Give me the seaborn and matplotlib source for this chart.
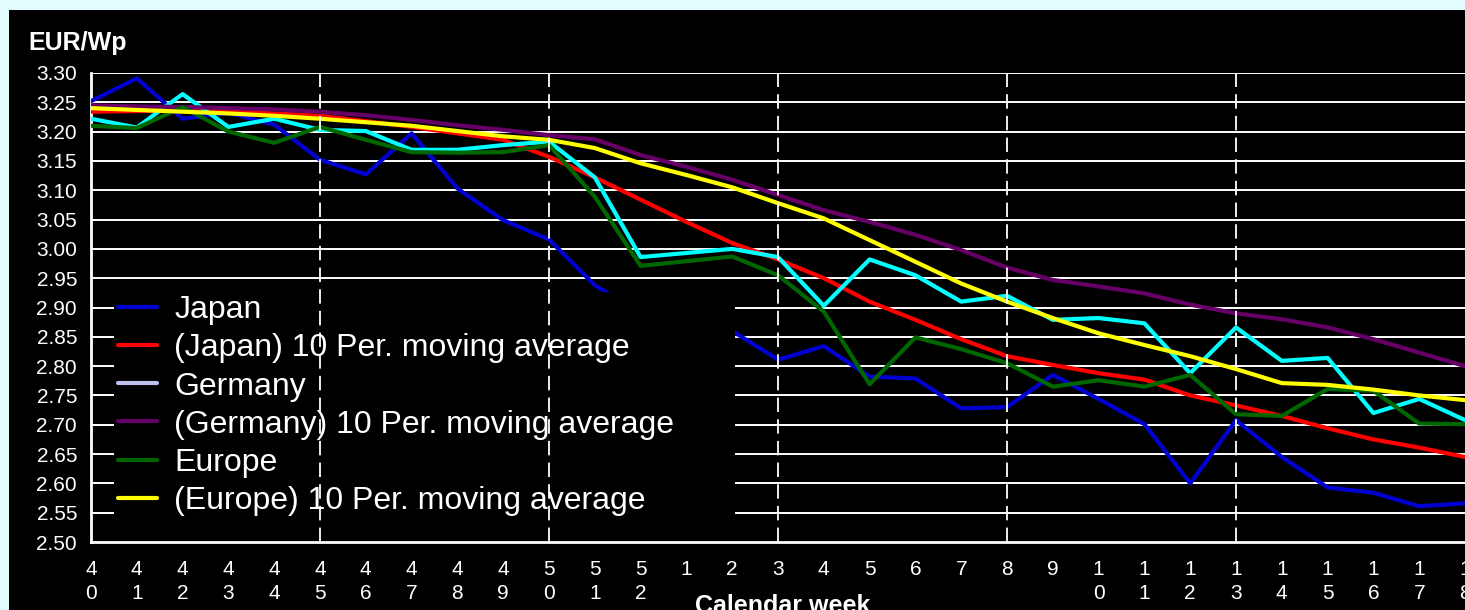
import numpy as np
import pandas as pd
import matplotlib
matplotlib.use('Agg')
import matplotlib.pyplot as plt
from matplotlib.lines import Line2D
from matplotlib.patches import Rectangle
import seaborn as sns

# calendar weeks (40..52 then 1..18)
weeks = [40, 41, 42, 43, 44, 45, 46, 47, 48, 49, 50, 51, 52,
         1, 2, 3, 4, 5, 6, 7, 8, 9, 10, 11, 12, 13, 14, 15, 16, 17, 18]

japan = [3.252, 3.291, 3.222, 3.232, 3.212, 3.152, 3.127, 3.197, 3.103, 3.049, 3.016,
         2.938, 2.890, 2.870, 2.860, 2.811, 2.834, 2.782, 2.779, 2.728, 2.730,
         2.785, 2.744, 2.701, 2.600, 2.708, 2.645, 2.593, 2.584, 2.561, 2.566]
japan_ma = [3.234, 3.235, 3.236, 3.234, 3.231, 3.227, 3.218, 3.208, 3.197, 3.186, 3.157,
            3.122, 3.084, 3.046, 3.010, 2.982, 2.950, 2.910, 2.879, 2.846, 2.817,
            2.802, 2.788, 2.777, 2.750, 2.733, 2.715, 2.694, 2.675, 2.661, 2.645]
germany = [3.222, 3.207, 3.264, 3.208, 3.222, 3.203, 3.201, 3.169, 3.169, 3.177, 3.183,
           3.122, 2.986, 2.993, 3.000, 2.986, 2.903, 2.982, 2.955, 2.910, 2.920,
           2.879, 2.882, 2.873, 2.788, 2.866, 2.809, 2.814, 2.720, 2.744, 2.708]
germany_ma = [3.245, 3.243, 3.242, 3.240, 3.238, 3.234, 3.228, 3.220, 3.211, 3.203, 3.194,
              3.187, 3.160, 3.140, 3.118, 3.092, 3.066, 3.046, 3.024, 2.998, 2.968,
              2.947, 2.936, 2.924, 2.905, 2.890, 2.880, 2.866, 2.846, 2.823, 2.800]
europe = [3.210, 3.206, 3.242, 3.200, 3.181, 3.208, 3.186, 3.165, 3.164, 3.165, 3.177,
          3.089, 2.971, 2.979, 2.987, 2.955, 2.893, 2.769, 2.849, 2.829, 2.805,
          2.765, 2.776, 2.765, 2.785, 2.718, 2.715, 2.761, 2.758, 2.702, 2.701]
europe_ma = [3.240, 3.237, 3.234, 3.231, 3.227, 3.222, 3.216, 3.210, 3.201, 3.192, 3.186,
             3.172, 3.146, 3.126, 3.105, 3.078, 3.052, 3.015, 2.978, 2.941, 2.910,
             2.882, 2.856, 2.836, 2.817, 2.795, 2.771, 2.768, 2.760, 2.750, 2.742]

labels = ['Japan', '(Japan) 10 Per. moving average',
          'Germany', '(Germany) 10 Per. moving average',
          'Europe', '(Europe) 10 Per. moving average']
line_colors = ['#0000d0', '#ff0000', '#00ffff', '#660066', '#006600', '#ffff00']
legend_colors = ['#0000d0', '#ff0000', '#c0c0f0', '#660066', '#006600', '#ffff00']
marker_weeks = [45, 50, 3, 8, 13]

sns.set_style('dark')
plt.rcParams['font.family'] = ['Liberation Sans', 'DejaVu Sans']

pos = np.arange(len(weeks))
df = pd.concat([pd.DataFrame({'pos': pos, 'price': v, 'series': n})
                for n, v in zip(labels, [japan, japan_ma, germany, germany_ma, europe, europe_ma])])

fig = plt.figure(figsize=(14.65, 6.1), dpi=100, facecolor='#e2fbfd')
fig.patches.append(Rectangle((9 / 1465, 0), 1, 600 / 610, transform=fig.transFigure,
                             facecolor='black', edgecolor='none', zorder=-10))
ax = fig.add_axes([91 / 1465, 68 / 610, 1374 / 1465, 469 / 610])
ax.set_facecolor('black')

sns.lineplot(data=df, x='pos', y='price', hue='series', hue_order=labels,
             palette=dict(zip(labels, line_colors)), linewidth=3, legend=False,
             sort=False, ax=ax, zorder=3)

ax.set_xlim(0, 30)
ax.set_ylim(2.50, 3.30)
yt = np.round(np.arange(2.50, 3.301, 0.05), 2)
ax.set_yticks(yt)
ax.set_yticklabels([f'{v:.2f}' for v in yt], color='white', fontsize=15)
ax.set_xticks(pos)
ax.set_xticklabels(['\n'.join(str(w)) for w in weeks], color='white', fontsize=15,
                   linespacing=1.3)
ax.tick_params(axis='y', length=6, width=1.5, color='white', pad=4)
ax.tick_params(axis='x', length=0, pad=13)
ax.grid(False)
for v in yt[1:]:
    ax.axhline(v, color='white', lw=1.4, zorder=1)
for s in ['top', 'right']:
    ax.spines[s].set_visible(False)
for s in ['left', 'bottom']:
    ax.spines[s].set_color('white')
    ax.spines[s].set_linewidth(2)
ax.set_xlabel('')
ax.set_ylabel('')

for w in marker_weeks:
    ax.axvline(weeks.index(w), color='white', lw=1.3, linestyle=(0, (8, 4)), zorder=7)

handles = [Line2D([], [], color=c, lw=3) for c in legend_colors]
leg = ax.legend(handles, labels, loc='upper left',
                bbox_to_anchor=(0.017, 0.058, 0.452, 0.475), mode='expand',
                fontsize=23, frameon=True, facecolor='black', edgecolor='none',
                framealpha=1, fancybox=False, borderpad=0.1, borderaxespad=0,
                labelspacing=0.255, handlelength=1.25, handletextpad=0.53)
for t in leg.get_texts():
    t.set_color('white')
leg.set_zorder(6)

fig.text(28 / 1465, 560 / 610, 'EUR/Wp', color='white', fontsize=18, fontweight='bold')
fig.text(783 / 1465, 16 / 610, 'Calendar week', color='white', fontsize=18,
         fontweight='bold', ha='center', va='top')

fig.savefig('out.png', dpi=100, facecolor=fig.get_facecolor())
